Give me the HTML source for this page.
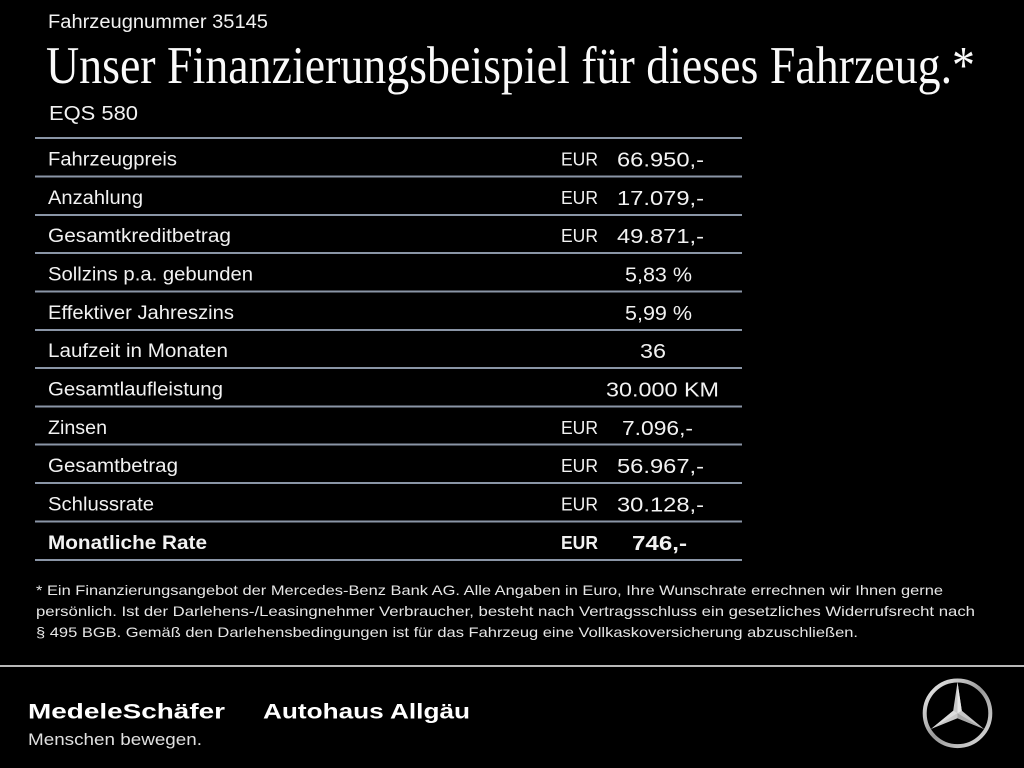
<!DOCTYPE html>
<html><head><meta charset="utf-8"><style>
html,body{margin:0;padding:0;background:#000;}
svg{display:block;}
text{fill:#f2f2f2;font-family:"Liberation Sans",sans-serif;}
.t{font-size:19px;}
.v{font-size:20px;}
.e{font-size:18px;}
.f{font-size:13.6px;fill:#e6e6e6;}
</style></head><body>
<svg width="1024" height="768" viewBox="0 0 1024 768" xmlns="http://www.w3.org/2000/svg">
<rect width="1024" height="768" fill="#000"/>
<text x="48" y="28" class="t" textLength="220" lengthAdjust="spacingAndGlyphs">Fahrzeugnummer 35145</text>
<text x="46" y="83" style="font-family:'Liberation Serif',serif;font-size:53px;fill:#fafafa" textLength="929" lengthAdjust="spacingAndGlyphs">Unser Finanzierungsbeispiel für dieses Fahrzeug.*</text>
<text x="49" y="120" style="font-size:20px" textLength="89" lengthAdjust="spacingAndGlyphs">EQS 580</text>

<g stroke="#8a95a6" stroke-width="2">
<line x1="35" y1="138" x2="742" y2="138"/>
<line x1="35" y1="176.5" x2="742" y2="176.5"/>
<line x1="35" y1="215" x2="742" y2="215"/>
<line x1="35" y1="253" x2="742" y2="253"/>
<line x1="35" y1="291.5" x2="742" y2="291.5"/>
<line x1="35" y1="330" x2="742" y2="330"/>
<line x1="35" y1="368" x2="742" y2="368"/>
<line x1="35" y1="406.5" x2="742" y2="406.5"/>
<line x1="35" y1="444.5" x2="742" y2="444.5"/>
<line x1="35" y1="483" x2="742" y2="483"/>
<line x1="35" y1="521.5" x2="742" y2="521.5"/>
<line x1="35" y1="560" x2="742" y2="560"/>
</g>

<g class="t">
<text x="48" y="165.5" class="t" textLength="129" lengthAdjust="spacingAndGlyphs">Fahrzeugpreis</text>
<text x="48" y="204" class="t" textLength="95" lengthAdjust="spacingAndGlyphs">Anzahlung</text>
<text x="48" y="242" class="t" textLength="183" lengthAdjust="spacingAndGlyphs">Gesamtkreditbetrag</text>
<text x="48" y="280.5" class="t" textLength="205" lengthAdjust="spacingAndGlyphs">Sollzins p.a. gebunden</text>
<text x="48" y="319" class="t" textLength="186" lengthAdjust="spacingAndGlyphs">Effektiver Jahreszins</text>
<text x="48" y="357" class="t" textLength="180" lengthAdjust="spacingAndGlyphs">Laufzeit in Monaten</text>
<text x="48" y="395.5" class="t" textLength="175" lengthAdjust="spacingAndGlyphs">Gesamtlaufleistung</text>
<text x="48" y="434" class="t" textLength="59" lengthAdjust="spacingAndGlyphs">Zinsen</text>
<text x="48" y="472" class="t" textLength="130" lengthAdjust="spacingAndGlyphs">Gesamtbetrag</text>
<text x="48" y="510.5" class="t" textLength="106" lengthAdjust="spacingAndGlyphs">Schlussrate</text>
<text x="48" y="549" class="t" style="font-weight:bold" textLength="159" lengthAdjust="spacingAndGlyphs">Monatliche Rate</text>
</g>

<text x="561" y="165.5" class="e" textLength="37" lengthAdjust="spacingAndGlyphs">EUR</text>
<text x="561" y="204" class="e" textLength="37" lengthAdjust="spacingAndGlyphs">EUR</text>
<text x="561" y="242" class="e" textLength="37" lengthAdjust="spacingAndGlyphs">EUR</text>
<text x="561" y="434" class="e" textLength="37" lengthAdjust="spacingAndGlyphs">EUR</text>
<text x="561" y="472" class="e" textLength="37" lengthAdjust="spacingAndGlyphs">EUR</text>
<text x="561" y="510.5" class="e" textLength="37" lengthAdjust="spacingAndGlyphs">EUR</text>
<text x="561" y="549" class="e" style="font-weight:bold" textLength="37" lengthAdjust="spacingAndGlyphs">EUR</text>

<text x="617" y="166.5" class="v" textLength="87" lengthAdjust="spacingAndGlyphs">66.950,-</text>
<text x="617" y="205" class="v" textLength="87" lengthAdjust="spacingAndGlyphs">17.079,-</text>
<text x="617" y="243" class="v" textLength="87" lengthAdjust="spacingAndGlyphs">49.871,-</text>
<text x="625" y="281.5" class="v" textLength="67" lengthAdjust="spacingAndGlyphs">5,83 %</text>
<text x="625" y="320" class="v" textLength="67" lengthAdjust="spacingAndGlyphs">5,99 %</text>
<text x="640" y="358" class="v" textLength="26" lengthAdjust="spacingAndGlyphs">36</text>
<text x="606" y="396.5" class="v" textLength="113" lengthAdjust="spacingAndGlyphs">30.000 KM</text>
<text x="622" y="435" class="v" textLength="71" lengthAdjust="spacingAndGlyphs">7.096,-</text>
<text x="617" y="473" class="v" textLength="87" lengthAdjust="spacingAndGlyphs">56.967,-</text>
<text x="617" y="511.5" class="v" textLength="87" lengthAdjust="spacingAndGlyphs">30.128,-</text>
<text x="632" y="550" class="v" style="font-weight:bold" textLength="55" lengthAdjust="spacingAndGlyphs">746,-</text>

<text x="36" y="595" class="f" textLength="907" lengthAdjust="spacingAndGlyphs">* Ein Finanzierungsangebot der Mercedes-Benz Bank AG. Alle Angaben in Euro, Ihre Wunschrate errechnen wir Ihnen gerne</text>
<text x="36" y="616" class="f" textLength="939" lengthAdjust="spacingAndGlyphs">persönlich. Ist der Darlehens-/Leasingnehmer Verbraucher, besteht nach Vertragsschluss ein gesetzliches Widerrufsrecht nach</text>
<text x="36" y="637" class="f" textLength="822" lengthAdjust="spacingAndGlyphs">§ 495 BGB. Gemäß den Darlehensbedingungen ist für das Fahrzeug eine Vollkaskoversicherung abzuschließen.</text>

<rect x="0" y="665" width="1024" height="2" fill="#b8b8b8"/>

<text x="28" y="718.5" style="font-size:21px;font-weight:bold;fill:#fff" textLength="197" lengthAdjust="spacingAndGlyphs">MedeleSchäfer</text>
<text x="263" y="718.5" style="font-size:21px;font-weight:bold;fill:#fff" textLength="207" lengthAdjust="spacingAndGlyphs">Autohaus Allgäu</text>
<text x="28" y="745" style="font-size:17px;fill:#e0e0e0" textLength="174" lengthAdjust="spacingAndGlyphs">Menschen bewegen.</text>

<defs>
<linearGradient id="silver" x1="0" y1="0" x2="1" y2="1">
<stop offset="0" stop-color="#f2f2f2"/>
<stop offset="0.5" stop-color="#9a9a9a"/>
<stop offset="1" stop-color="#e0e0e0"/>
</linearGradient>
</defs>
<circle cx="957.5" cy="713.3" r="32.8" fill="none" stroke="url(#silver)" stroke-width="4"/>
<polygon points="957.5,682 961.8,710.8 984,729 957.5,718.3 931,729 953.2,710.8" fill="#c8c8c8"/>
<polygon points="957.5,682 961.8,710.8 957.5,713.3" fill="#e8e8e8"/>
<polygon points="984,729 957.5,718.3 957.5,713.3" fill="#a8a8a8"/>
<polygon points="931,729 953.2,710.8 957.5,713.3" fill="#dcdcdc"/>
</svg>
</body></html>
